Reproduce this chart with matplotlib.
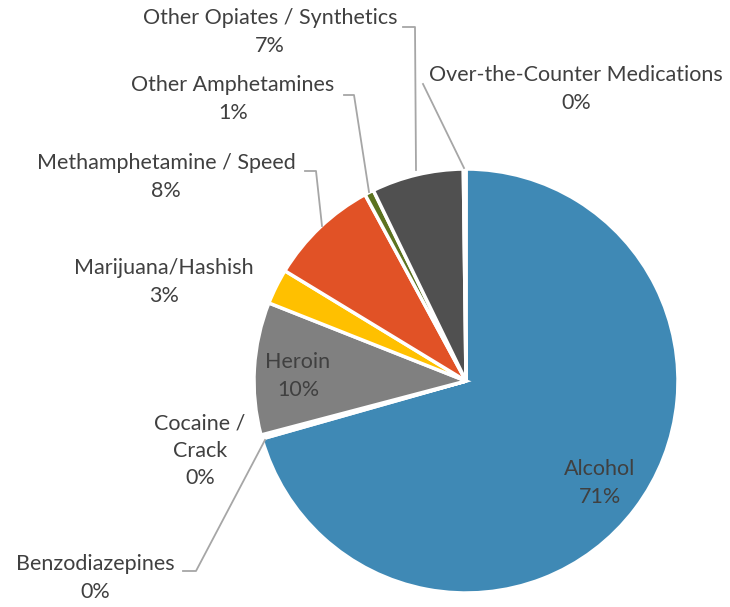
import matplotlib
matplotlib.use("Agg")
import matplotlib.pyplot as plt

plt.rcParams['font.family'] = ['Lato', 'DejaVu Sans']

# slice data, clockwise from 12 o'clock
categories = ["Alcohol", "Benzodiazepines", "Cocaine /\nCrack", "Heroin",
              "Marijuana/Hashish", "Methamphetamine / Speed", "Other Amphetamines",
              "Other Opiates / Synthetics", "Over-the-Counter Medications"]
shares = [70.6, 0.15, 0.15, 10.1, 2.7, 8.4, 0.7, 7.0, 0.2]
pct_labels = ["71%", "0%", "0%", "10%", "3%", "8%", "1%", "7%", "0%"]
colors = ["#3F89B5", "#B5C43A", "#E8D44D", "#808080", "#FFC000",
          "#E15226", "#5C7320", "#505050", "#9DC3E6"]

W, H = 730, 607
fig = plt.figure(figsize=(W / 100, H / 100), dpi=100)
ax = fig.add_axes([0, 0, 1, 1])

def Y(y):
    return H - y

ax.pie(shares, colors=colors, startangle=90, counterclock=False,
       center=(466, Y(381)), radius=212, frame=True,
       wedgeprops=dict(edgecolor='white', linewidth=2.5))
ax.set_xlim(0, W)
ax.set_ylim(0, H)
ax.set_aspect('equal')
ax.axis('off')

# label text positions (centre of each text block, pixels from top-left)
label_pos = [(600, 483), (95, 578), (200, 451), (298, 376), (164, 282),
             (166, 177), (233, 99), (270, 32), (576, 89)]
text_color = "#404040"
for name, pct, (x, y) in zip(categories, pct_labels, label_pos):
    ax.text(x, Y(y), f"{name}\n{pct}", ha='center', va='center',
            fontsize=15.5, color=text_color, linespacing=1.45)

# leader lines
leaders = [
    [(403, 27), (415, 27), (416, 170)],
    [(423, 84), (464, 168)],
    [(344, 95), (354, 95), (369, 192)],
    [(305, 171), (316, 171), (322, 226)],
    [(265, 440), (196, 571), (183, 571)],
]
for pts in leaders:
    xs = [p[0] for p in pts]
    ys = [Y(p[1]) for p in pts]
    ax.plot(xs, ys, color="#A6A6A6", linewidth=1.3)

fig.savefig("out.png", dpi=100)
